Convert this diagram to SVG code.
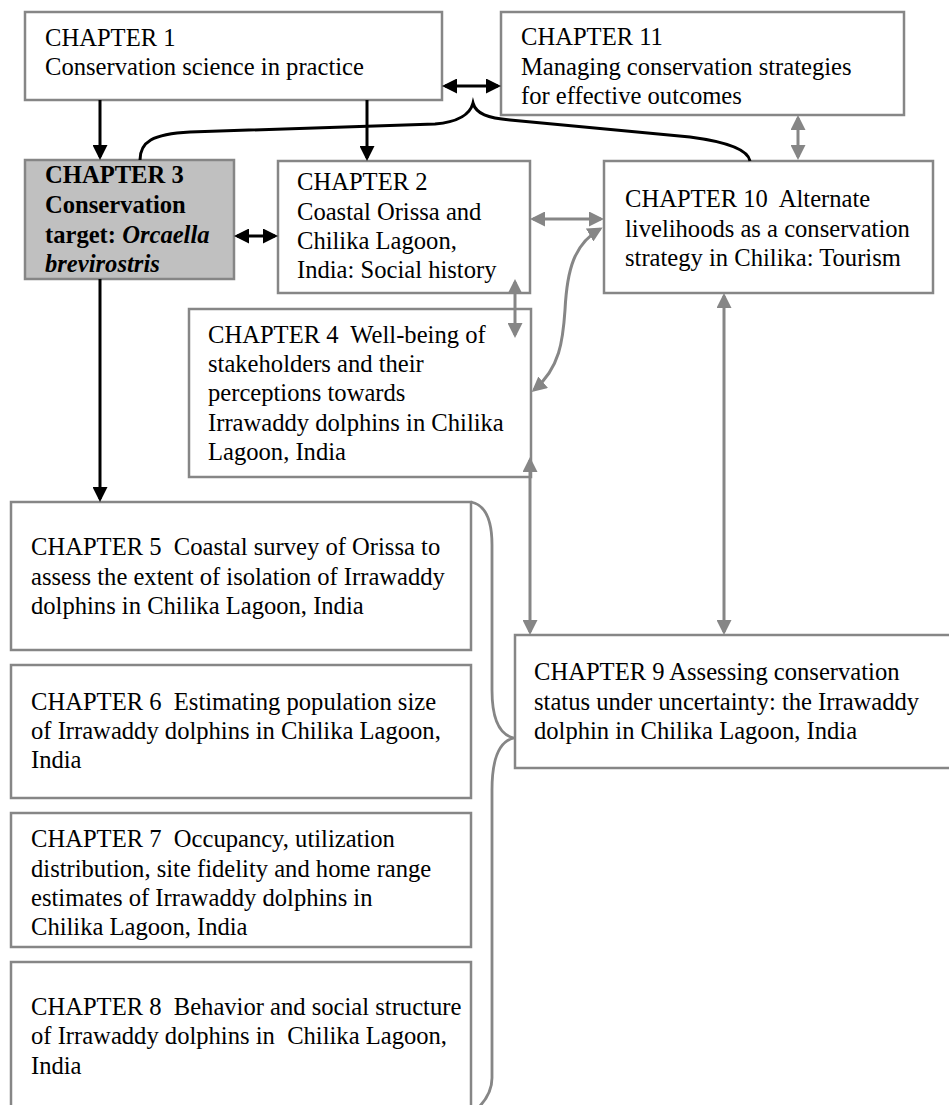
<svg xmlns="http://www.w3.org/2000/svg" width="949" height="1105" viewBox="0 0 949 1105">
  <style>
    .box { fill: #ffffff; stroke: #868686; stroke-width: 2.5; }
    .box.shaded { fill: #c0c0c0; }
    .t { font-family: "Liberation Serif", "Times New Roman", serif; font-size: 24.6px; fill: #000000; }
    .b { font-weight: bold; }
    .i { font-style: italic; }
    .blk { fill: none; stroke: #000000; stroke-width: 3; }
    .gry { fill: none; stroke: #868686; stroke-width: 3; }
    .brace-g { fill: none; stroke: #868686; stroke-width: 2.8; }
  </style>
  <defs>
    <marker id="headBlack" markerUnits="userSpaceOnUse" markerWidth="15" markerHeight="15" refX="12" refY="7.5" orient="auto-start-reverse">
      <path d="M0,0 L15,7.5 L0,15 z" fill="#000000"/>
    </marker>
    <marker id="headGray" markerUnits="userSpaceOnUse" markerWidth="15" markerHeight="15" refX="12" refY="7.5" orient="auto-start-reverse">
      <path d="M0,0 L15,7.5 L0,15 z" fill="#868686"/>
    </marker>
  </defs>

  <g id="ch1">
    <rect class="box" x="25" y="12" width="417" height="88"/>
    <text class="t" x="45" y="46">CHAPTER 1</text>
    <text class="t" x="45" y="75">Conservation science in practice</text>
  </g>

  <g id="ch11">
    <rect class="box" x="501" y="12" width="403" height="103"/>
    <text class="t" x="521" y="45">CHAPTER 11</text>
    <text class="t" x="521" y="75">Managing conservation strategies</text>
    <text class="t" x="521" y="104">for effective outcomes</text>
  </g>

  <g id="ch3">
    <rect class="box shaded" x="25" y="160" width="209" height="119"/>
    <text class="t b" x="45" y="183">CHAPTER 3</text>
    <text class="t b" x="45" y="213">Conservation</text>
    <text class="t b" x="45" y="243">target: <tspan class="i">Orcaella</tspan></text>
    <text class="t b i" x="45" y="272">brevirostris</text>
  </g>

  <g id="ch2">
    <rect class="box" x="278" y="161" width="252" height="132"/>
    <text class="t" x="297" y="190">CHAPTER 2</text>
    <text class="t" x="297" y="220">Coastal Orissa and</text>
    <text class="t" x="297" y="249">Chilika Lagoon,</text>
    <text class="t" x="297" y="278">India: Social history</text>
  </g>

  <g id="ch10">
    <rect class="box" x="604" y="161" width="329" height="132"/>
    <text class="t" x="625" y="207" xml:space="preserve">CHAPTER 10  Alternate</text>
    <text class="t" x="625" y="237">livelihoods as a conservation</text>
    <text class="t" x="625" y="266">strategy in Chilika: Tourism</text>
  </g>

  <g id="ch4">
    <rect class="box" x="189" y="309" width="342" height="168"/>
    <text class="t" x="208" y="343" xml:space="preserve">CHAPTER 4  Well-being of</text>
    <text class="t" x="208" y="372">stakeholders and their</text>
    <text class="t" x="208" y="401">perceptions towards</text>
    <text class="t" x="208" y="431">Irrawaddy dolphins in Chilika</text>
    <text class="t" x="208" y="460">Lagoon, India</text>
  </g>

  <g id="ch5">
    <rect class="box" x="11" y="502" width="460" height="148"/>
    <text class="t" x="31" y="555" xml:space="preserve">CHAPTER 5  Coastal survey of Orissa to</text>
    <text class="t" x="31" y="585">assess the extent of isolation of Irrawaddy</text>
    <text class="t" x="31" y="614">dolphins in Chilika Lagoon, India</text>
  </g>

  <g id="ch6">
    <rect class="box" x="11" y="665" width="460" height="133"/>
    <text class="t" x="31" y="710" xml:space="preserve">CHAPTER 6  Estimating population size</text>
    <text class="t" x="31" y="739">of Irrawaddy dolphins in Chilika Lagoon,</text>
    <text class="t" x="31" y="768">India</text>
  </g>

  <g id="ch7">
    <rect class="box" x="11" y="813" width="460" height="134"/>
    <text class="t" x="31" y="847" xml:space="preserve">CHAPTER 7  Occupancy, utilization</text>
    <text class="t" x="31" y="877">distribution, site fidelity and home range</text>
    <text class="t" x="31" y="906">estimates of Irrawaddy dolphins in</text>
    <text class="t" x="31" y="935">Chilika Lagoon, India</text>
  </g>

  <g id="ch8">
    <rect class="box" x="11" y="962" width="460" height="160"/>
    <text class="t" x="31" y="1015" xml:space="preserve">CHAPTER 8  Behavior and social structure</text>
    <text class="t" x="31" y="1044" xml:space="preserve">of Irrawaddy dolphins in  Chilika Lagoon,</text>
    <text class="t" x="31" y="1074">India</text>
  </g>

  <g id="ch9">
    <rect class="box" x="515" y="635" width="460" height="133"/>
    <text class="t" x="534" y="680">CHAPTER 9 Assessing conservation</text>
    <text class="t" x="534" y="710">status under uncertainty: the Irrawaddy</text>
    <text class="t" x="534" y="739">dolphin in Chilika Lagoon, India</text>
  </g>

  <g id="connectors">
    <!-- black links -->
    <path class="blk" d="M100,100 L100,157" marker-end="url(#headBlack)"/>
    <path class="blk" d="M367,100 L367,158" marker-end="url(#headBlack)"/>
    <path class="blk" d="M100,279 L100,499" marker-end="url(#headBlack)"/>
    <path class="blk" d="M445,86 L498,86" marker-start="url(#headBlack)" marker-end="url(#headBlack)"/>
    <path class="blk" d="M237,236 L275,236" marker-start="url(#headBlack)" marker-end="url(#headBlack)"/>
    <!-- black brace joining chapter 3 and chapter 10 -->
    <path class="blk" d="M140,160 C140,142 152,134 190,132 L435,124 C458,122 470,115 473,103 C476,114 488,118 510,120 L690,137 C728,142 748,150 750,161"/>

    <!-- grey links -->
    <path class="gry" d="M798,118 L798,157" marker-start="url(#headGray)" marker-end="url(#headGray)"/>
    <path class="gry" d="M533,219 L601,219" marker-start="url(#headGray)" marker-end="url(#headGray)"/>
    <path class="gry" d="M515,282 L515,335" marker-start="url(#headGray)" marker-end="url(#headGray)"/>
    <path class="gry" d="M534,390 C560,368 563,340 565,310 C567,270 574,244 600,229" marker-start="url(#headGray)" marker-end="url(#headGray)"/>
    <path class="gry" d="M530,460 L530,632" marker-start="url(#headGray)" marker-end="url(#headGray)"/>
    <path class="gry" d="M724,296 L724,632" marker-start="url(#headGray)" marker-end="url(#headGray)"/>

    <!-- grey brace grouping chapters 5 to 8 -->
    <path class="brace-g" d="M471,502 C486,505 492,520 492,545 L492,690 C492,720 500,735 514,738 C500,741 492,756 492,790 L492,1078 C492,1090 487,1099 478,1108"/>
  </g>
</svg>
